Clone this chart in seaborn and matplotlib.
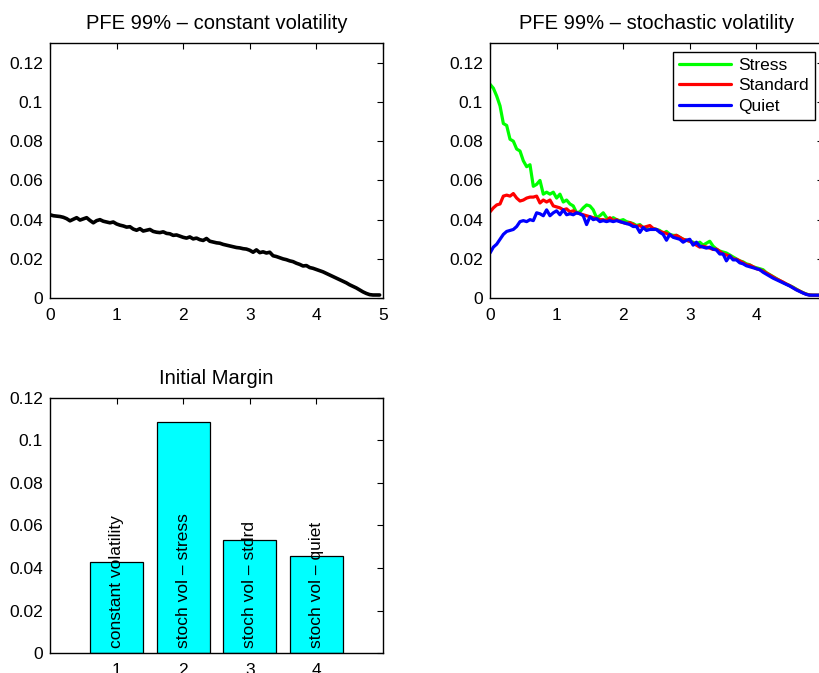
import numpy as np
import matplotlib
matplotlib.use("Agg")
import matplotlib.pyplot as plt
from matplotlib.ticker import FuncFormatter
import seaborn as sns

# horizon grid (years)
t = np.arange(100) * 0.05

pfe_constant = [
    0.0425, 0.0420, 0.0418, 0.0416, 0.0412, 0.0405, 0.0394, 0.0402, 0.0410, 0.0398,
    0.0404, 0.0410, 0.0396, 0.0384, 0.0395, 0.0400, 0.0392, 0.0388, 0.0384, 0.0388,
    0.0378, 0.0372, 0.0368, 0.0362, 0.0364, 0.0352, 0.0346, 0.0354, 0.0342, 0.0346,
    0.0350, 0.0340, 0.0336, 0.0334, 0.0338, 0.0330, 0.0328, 0.0320, 0.0322, 0.0316,
    0.0310, 0.0306, 0.0312, 0.0302, 0.0306, 0.0298, 0.0294, 0.0304, 0.0290, 0.0286,
    0.0282, 0.0280, 0.0274, 0.0270, 0.0266, 0.0262, 0.0258, 0.0256, 0.0252, 0.0250,
    0.0244, 0.0234, 0.0246, 0.0232, 0.0236, 0.0230, 0.0234, 0.0216, 0.0212, 0.0206,
    0.0200, 0.0196, 0.0190, 0.0186, 0.0178, 0.0172, 0.0164, 0.0166, 0.0156, 0.0152,
    0.0146, 0.0140, 0.0134, 0.0126, 0.0118, 0.0110, 0.0102, 0.0094, 0.0086, 0.0078,
    0.0068, 0.0060, 0.0052, 0.0042, 0.0032, 0.0024, 0.0018, 0.0016, 0.0016, 0.0016,
]

pfe_stress = [
    0.109, 0.107, 0.103, 0.098, 0.089, 0.088, 0.081, 0.080, 0.076, 0.075,
    0.070, 0.067, 0.068, 0.057, 0.058, 0.060, 0.053, 0.054, 0.053, 0.054,
    0.051, 0.053, 0.049, 0.050, 0.048, 0.047, 0.0435, 0.044, 0.046, 0.0475,
    0.047, 0.045, 0.041, 0.042, 0.0435, 0.041, 0.040, 0.041, 0.040, 0.0395,
    0.040, 0.039, 0.0385, 0.038, 0.037, 0.0375, 0.036, 0.0355, 0.035, 0.0355,
    0.035, 0.0345, 0.033, 0.034, 0.0325, 0.032, 0.032, 0.031, 0.030, 0.0295,
    0.0290, 0.0285, 0.0275, 0.0285, 0.027, 0.028, 0.029, 0.0265, 0.025, 0.024,
    0.0235, 0.023, 0.022, 0.021, 0.020, 0.019, 0.0185, 0.0175, 0.017, 0.016,
    0.0155, 0.015, 0.0145, 0.013, 0.012, 0.011, 0.010, 0.009, 0.008, 0.0072,
    0.0064, 0.0056, 0.0046, 0.0036, 0.0028, 0.0021, 0.0016, 0.0015, 0.0015, 0.0015,
]

pfe_standard = [
    0.044, 0.046, 0.0475, 0.048, 0.052, 0.0525, 0.052, 0.0533, 0.051, 0.0495,
    0.050, 0.051, 0.0515, 0.0515, 0.052, 0.0485, 0.050, 0.049, 0.050, 0.047,
    0.0465, 0.046, 0.045, 0.0455, 0.044, 0.0445, 0.0435, 0.043, 0.0425, 0.042,
    0.0415, 0.041, 0.0405, 0.040, 0.040, 0.0395, 0.041, 0.0395, 0.040, 0.039,
    0.0385, 0.038, 0.0385, 0.0375, 0.0365, 0.037, 0.036, 0.0365, 0.037, 0.0355,
    0.035, 0.034, 0.0335, 0.033, 0.032, 0.0315, 0.032, 0.031, 0.030, 0.0295,
    0.029, 0.028, 0.027, 0.026, 0.0265, 0.026, 0.0255, 0.0248, 0.025, 0.0238,
    0.0225, 0.022, 0.0215, 0.020, 0.0198, 0.019, 0.018, 0.017, 0.0168, 0.016,
    0.015, 0.0145, 0.0138, 0.0128, 0.0118, 0.0108, 0.0098, 0.009, 0.0082, 0.0072,
    0.0064, 0.0054, 0.0044, 0.0036, 0.0027, 0.002, 0.0016, 0.0015, 0.0015, 0.0015,
]

pfe_quiet = [
    0.023, 0.026, 0.0275, 0.030, 0.0325, 0.034, 0.0345, 0.035, 0.0365, 0.039,
    0.0395, 0.039, 0.040, 0.0395, 0.0435, 0.043, 0.042, 0.045, 0.042, 0.0435,
    0.0445, 0.0425, 0.045, 0.0425, 0.043, 0.0425, 0.0435, 0.043, 0.042, 0.0375,
    0.0415, 0.040, 0.0405, 0.039, 0.0395, 0.039, 0.0395, 0.039, 0.0395, 0.039,
    0.0385, 0.038, 0.0375, 0.0365, 0.0365, 0.0335, 0.036, 0.0345, 0.035, 0.035,
    0.035, 0.0335, 0.0325, 0.0295, 0.0325, 0.031, 0.0305, 0.030, 0.0285, 0.0295,
    0.030, 0.027, 0.0285, 0.0265, 0.026, 0.0255, 0.026, 0.025, 0.0245, 0.0225,
    0.0225, 0.019, 0.0215, 0.0195, 0.0195, 0.018, 0.0175, 0.0165, 0.016, 0.0155,
    0.015, 0.0145, 0.0132, 0.0122, 0.0112, 0.0102, 0.0094, 0.0086, 0.0078, 0.007,
    0.0062, 0.0052, 0.0042, 0.0034, 0.0026, 0.0019, 0.0015, 0.0015, 0.0015, 0.0015,
]

# initial margin bars
im_positions = [1, 2, 3, 4]
im_values = [0.043, 0.1085, 0.053, 0.0455]
im_labels = ["constant volatility", "stoch vol \u2013 stress",
             "stoch vol \u2013 stdrd", "stoch vol \u2013 quiet"]

sns.set_style("white")
plt.rcParams["font.family"] = ["Liberation Sans", "DejaVu Sans"]
plt.rcParams["text.color"] = "black"
plt.rcParams["axes.titlecolor"] = "black"

fig = plt.figure(figsize=(8.2, 6.73), dpi=100)
ax1 = fig.add_axes([0.061, 0.557, 0.406, 0.379])
ax2 = fig.add_axes([0.5976, 0.557, 0.406, 0.379])
ax3 = fig.add_axes([0.061, 0.0297, 0.406, 0.379])

fmt = FuncFormatter(lambda v, p: f"{v:g}")


def matlab_axes(ax):
    for s in ax.spines.values():
        s.set_color("black")
        s.set_linewidth(1.0)
        s.set_visible(True)
    ax.tick_params(direction="in", length=4, width=0.8, top=True, right=True,
                   labelsize=12.5, colors="black")
    ax.tick_params(axis="x", pad=7)
    ax.tick_params(axis="y", pad=5)
    ax.yaxis.set_major_formatter(fmt)
    ax.xaxis.set_major_formatter(fmt)


# constant volatility
sns.lineplot(x=t, y=pfe_constant, ax=ax1, color="black", linewidth=2.6)
ax1.set_xlim(0, 5)
ax1.set_ylim(0, 0.13)
ax1.set_yticks([0, 0.02, 0.04, 0.06, 0.08, 0.1, 0.12])
ax1.set_xticks([0, 1, 2, 3, 4, 5])
ax1.set_title("PFE 99% \u2013 constant volatility", fontsize=14.5, pad=10)
matlab_axes(ax1)

# stochastic volatility
sns.lineplot(x=t, y=pfe_stress, ax=ax2, color="#00ff00", linewidth=2.3, label="Stress")
sns.lineplot(x=t, y=pfe_standard, ax=ax2, color="#ff0000", linewidth=2.3, label="Standard")
sns.lineplot(x=t, y=pfe_quiet, ax=ax2, color="#0000ff", linewidth=2.3, label="Quiet")
ax2.set_xlim(0, 5)
ax2.set_ylim(0, 0.13)
ax2.set_yticks([0, 0.02, 0.04, 0.06, 0.08, 0.1, 0.12])
ax2.set_xticks([0, 1, 2, 3, 4, 5])
ax2.set_title("PFE 99% \u2013 stochastic volatility", fontsize=14.5, pad=10)
matlab_axes(ax2)
leg = ax2.legend(loc="upper right", bbox_to_anchor=(0.976, 0.966), borderaxespad=0,
                 fontsize=12.5, handlelength=3.0, handletextpad=0.4, labelspacing=0.3,
                 borderpad=0.35, fancybox=False, framealpha=1)
leg.get_frame().set_edgecolor("black")
leg.get_frame().set_linewidth(1.0)

# initial margin
sns.barplot(x=im_positions, y=im_values, ax=ax3, native_scale=True, width=0.8,
            color="#00ffff", saturation=1, edgecolor="black", linewidth=0.9)
for xpos, lab in zip(im_positions, im_labels):
    ax3.text(xpos, 0.0022, lab, rotation=90, ha="center", va="bottom", fontsize=12.5)
ax3.set_xlim(0, 5)
ax3.set_ylim(0, 0.12)
ax3.set_yticks([0, 0.02, 0.04, 0.06, 0.08, 0.1, 0.12])
ax3.set_xticks([1, 2, 3, 4])
ax3.set_title("Initial Margin", fontsize=14.5, pad=10)
matlab_axes(ax3)

fig.savefig("out.png", dpi=100)
